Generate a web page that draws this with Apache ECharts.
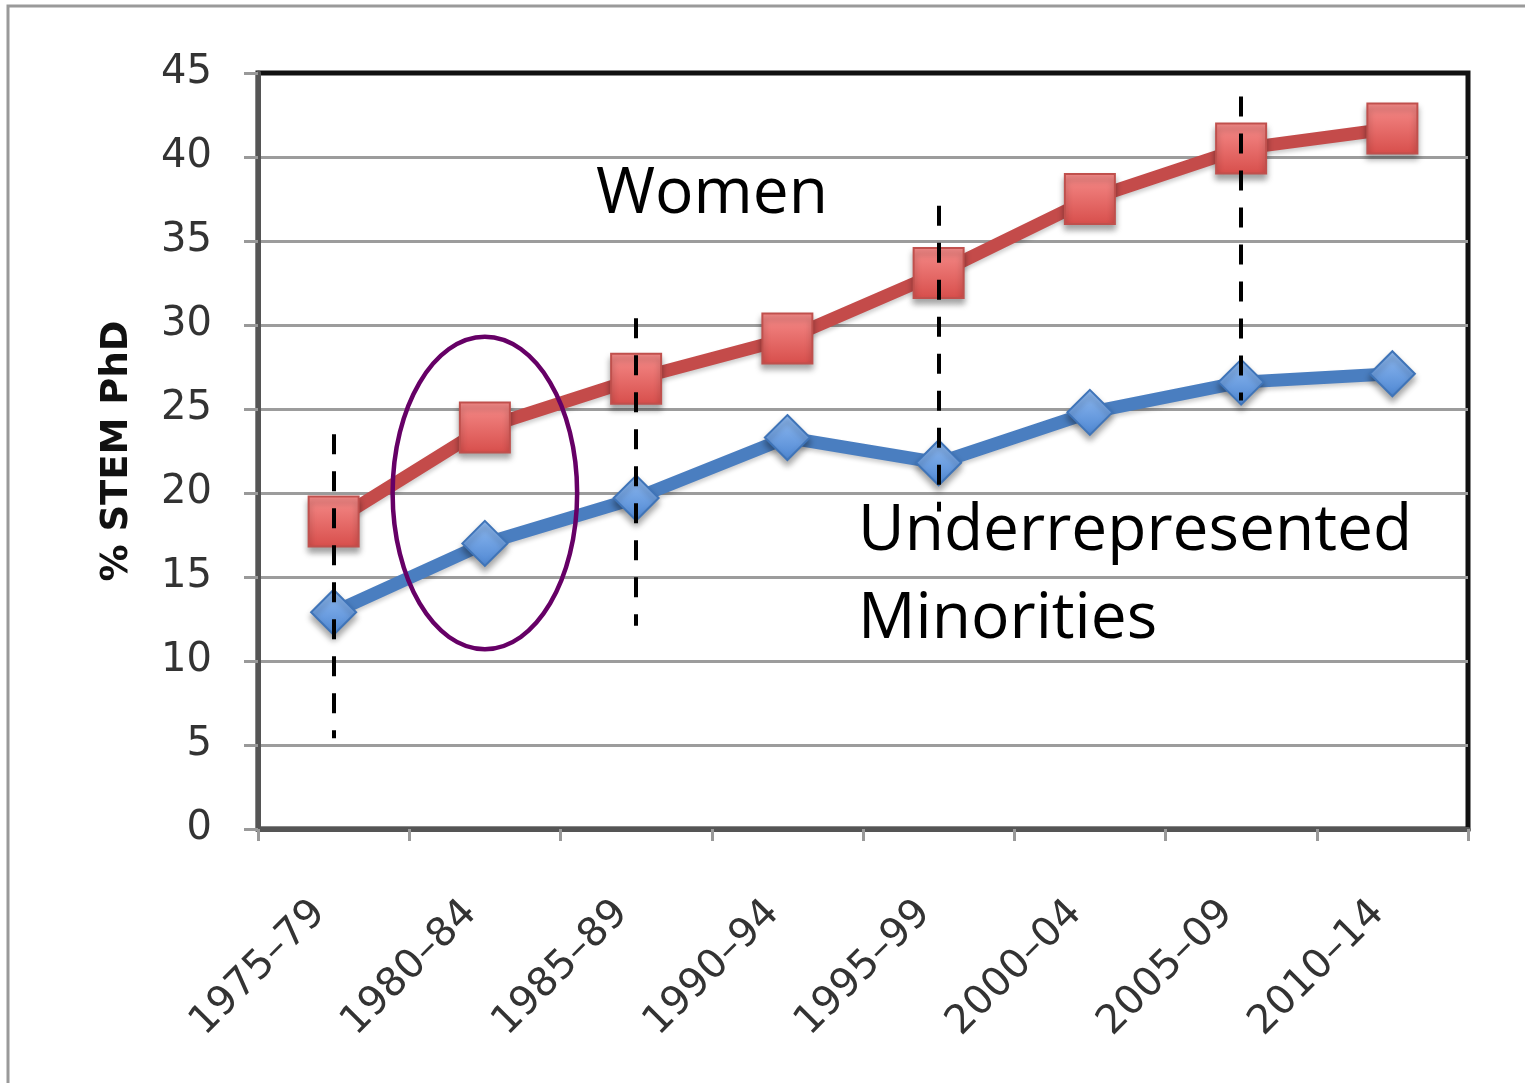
<!DOCTYPE html>
<html>
<head>
<meta charset="utf-8">
<title>% STEM PhD</title>
<script src="https://cdn.jsdelivr.net/npm/echarts@6/dist/echarts.min.js"></script>
<style>
  html, body { margin: 0; padding: 0; background: #fff; }
  #chart { width: 1525px; height: 1083px; }
</style>
</head>
<body>
<div id="chart"></div>
<script>
// Five-year periods on the category axis
const categories = ['1975\u201379', '1980\u201384', '1985\u201389', '1990\u201394',
                    '1995\u201399', '2000\u201304', '2005\u201309', '2010\u201314'];

// Share of STEM PhDs (%)
const women      = [18.3, 23.9, 26.8, 29.2, 33.1, 37.5, 40.5, 41.7];
const minorities = [12.9, 17.0, 19.7, 23.3, 21.8, 24.8, 26.6, 27.1];

// Value axis range
const yMin = 0, yMax = 45, yStep = 5;

// Dashed guide lines: [category index, upper value, lower value]
const guides = [
  [0, 23.5, 5.4],
  [2, 30.4, 12.1],
  [4, 37.1, 18.9],
  [6, 43.6, 25.5]
];

// Highlight ellipse: centred on a category / value, half-width in categories, half-height in values
const highlight = { cat: 1, value: 20, halfCats: 0.61, halfValue: 9.3 };

const chart = echarts.init(document.getElementById('chart'));

const tickFont = { fontFamily: 'DejaVu Sans', fontSize: 40, color: '#333' };
const shadow = { shadowColor: 'rgba(0,0,0,0.35)', shadowBlur: 6, shadowOffsetY: 5 };
const lineShadow = { shadowColor: 'rgba(0,0,0,0.2)', shadowBlur: 4, shadowOffsetY: 3 };

chart.setOption({
  animation: false,
  backgroundColor: '#fff',
  grid: {
    left: 258, right: 57, top: 73, bottom: 254,
    show: true, borderColor: '#111', borderWidth: 5, backgroundColor: 'transparent'
  },
  xAxis: {
    type: 'category',
    data: categories,
    boundaryGap: true,
    axisLine: { lineStyle: { color: '#555', width: 5 } },
    axisTick: { show: true, length: 12, lineStyle: { color: '#999', width: 3 } },
    axisLabel: Object.assign({ rotate: 45, margin: 64, interval: 0, padding: [0, 20, 0, 0] }, tickFont),
    splitLine: { show: false }
  },
  yAxis: {
    type: 'value',
    min: yMin, max: yMax, interval: yStep,
    name: '% STEM PhD',
    nameLocation: 'middle',
    nameGap: 122,
    nameRotate: 90,
    nameTextStyle: { fontFamily: 'DejaVu Sans', fontWeight: 'bold', fontSize: 37, color: '#111' },
    axisLine: { show: true, lineStyle: { color: '#555', width: 5 } },
    axisTick: { show: true, length: 14, lineStyle: { color: '#999', width: 3 } },
    axisLabel: Object.assign({ margin: 46, padding: [9, 0, 0, 0] }, tickFont),
    splitLine: { show: true, showMinLine: false, showMaxLine: false, lineStyle: { color: '#9c9c9c', width: 3 } }
  },
  series: [
    {
      name: 'Underrepresented Minorities',
      type: 'line',
      data: minorities,
      symbol: 'diamond',
      symbolSize: 45,
      z: 3,
      lineStyle: Object.assign({ color: '#4a7ec0', width: 13 }, lineShadow),
      itemStyle: Object.assign({
        color: new echarts.graphic.LinearGradient(0, 0, 0, 1, [
          { offset: 0, color: '#92bcf2' }, { offset: 1, color: '#4d86d2' }
        ]),
        borderColor: '#3f74b8', borderWidth: 2, opacity: 1
      }, shadow)
    },
    {
      name: 'Women',
      type: 'line',
      data: women,
      symbol: 'rect',
      symbolSize: 50,
      z: 4,
      lineStyle: Object.assign({ color: '#c44b4a', width: 13 }, lineShadow),
      itemStyle: Object.assign({
        color: new echarts.graphic.LinearGradient(0, 0, 0, 1, [
          { offset: 0, color: '#f68c8a' }, { offset: 1, color: '#d74e4b' }
        ]),
        borderColor: '#c0504d', borderWidth: 2, opacity: 1
      }, shadow)
    },
    {
      name: 'guides',
      type: 'line',
      data: [],
      z: 10,
      markLine: {
        silent: true,
        symbol: ['none', 'none'],
        label: { show: false },
        lineStyle: { color: '#000', width: 4, type: [20, 17] },
        data: guides.map(g => [
          { coord: [categories[g[0]], g[1]] },
          { coord: [categories[g[0]], g[2]] }
        ])
      }
    }
  ]
});

// Annotations placed relative to the plot via the axes
const c  = chart.convertToPixel({ gridIndex: 0 }, [highlight.cat, highlight.value]);
const c2 = chart.convertToPixel({ gridIndex: 0 }, [highlight.cat + 1, highlight.value + highlight.halfValue]);
const rx = (c2[0] - c[0]) * highlight.halfCats;
const ry = c[1] - c2[1];

const labelFont = { fontFamily: 'Open Sans', fontSize: 64, fill: '#000' };

chart.setOption({
  graphic: [
    {
      type: 'rect', z: 0, silent: true,
      shape: { x: 8, y: 6, width: 1700, height: 1300 },
      style: { fill: 'none', stroke: '#9a9a9a', lineWidth: 3 }
    },
    {
      type: 'ellipse', z: 20, silent: true,
      shape: { cx: c[0], cy: c[1], rx: rx, ry: ry },
      style: { fill: 'none', stroke: '#660066', lineWidth: 4.5 }
    },
    {
      type: 'text', z: 20, silent: true, left: 596, top: 163,
      style: Object.assign({ text: 'Women' }, labelFont)
    },
    {
      type: 'text', z: 20, silent: true, left: 858, top: 488,
      style: Object.assign({ text: 'Underrepresented\nMinorities', lineHeight: 88 }, labelFont)
    }
  ]
});
</script>
</body>
</html>
